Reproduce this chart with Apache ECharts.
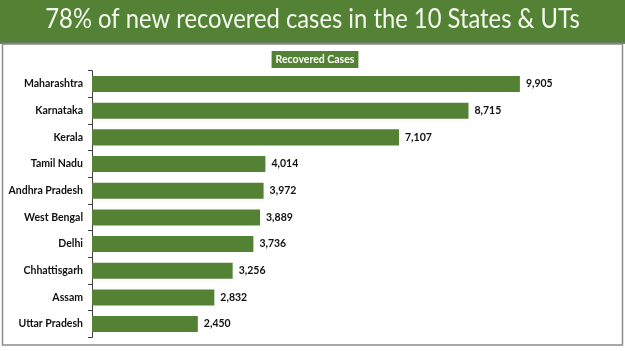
<!DOCTYPE html>
<html><head><meta charset="utf-8">
<script src="https://cdn.jsdelivr.net/npm/echarts@6/dist/echarts.min.js"></script>
<style>html,body{margin:0;padding:0;background:#fff}#c{width:625px;height:351px}</style>
</head><body><div id="c"></div>
<script>
const categories = ["Maharashtra","Karnataka","Kerala","Tamil Nadu","Andhra Pradesh","West Bengal","Delhi","Chhattisgarh","Assam","Uttar Pradesh"];
const recovered = [9905,8715,7107,4014,3972,3889,3736,3256,2832,2450];
const titleText = "78% of new recovered cases in the 10 States & UTs";
const seriesName = "Recovered Cases";

const chart = echarts.init(document.getElementById('c'));
chart.setOption({
  animation:false,
  backgroundColor:'#fff',
  graphic:[
    {type:'rect',z:-10,shape:{x:0,y:0,width:625,height:43},style:{fill:'#548235'}},
    {type:'rect',z:-9,shape:{x:0,y:42,width:625,height:2},style:{fill:'#6b7f5a'}},
    {type:'rect',z:-8,shape:{x:2.5,y:44,width:620,height:301},style:{fill:'none',stroke:'#8c8c8c',lineWidth:1.5}},
    {type:'text',z:10,x:312.5,y:20,scaleX:0.915,
      style:{text:titleText,fill:'#f4f8ef',font:'26px Lato',textAlign:'center',textVerticalAlign:'middle'}}
  ],
  legend:{top:46,left:'center',icon:'none',itemWidth:0,itemGap:0,
    textStyle:{color:'#fff',fontFamily:'Lato',fontWeight:'bold',fontSize:10.5,
      backgroundColor:'#548235',padding:[3,4,3,4]}},
  grid:{left:92,top:70.7,width:432,height:266.7,containLabel:false},
  xAxis:{type:'value',min:0,max:10000,show:false},
  yAxis:{type:'category',data:categories,inverse:true,
    axisLine:{show:true,lineStyle:{color:'#404040',width:1}},
    axisTick:{show:true,length:4,lineStyle:{color:'#404040'}},
    axisLabel:{color:'#111',fontFamily:'Lato',fontWeight:'bold',fontSize:10.5,margin:9}},
  series:[{name:seriesName,type:'bar',data:recovered,barCategoryGap:'40%',
    itemStyle:{color:'#548235'},
    label:{show:true,position:'right',distance:6,color:'#111',fontFamily:'Lato',fontWeight:'bold',fontSize:10.5,
      formatter:p=>p.value.toLocaleString('en-US')}}]
});
</script></body></html>
